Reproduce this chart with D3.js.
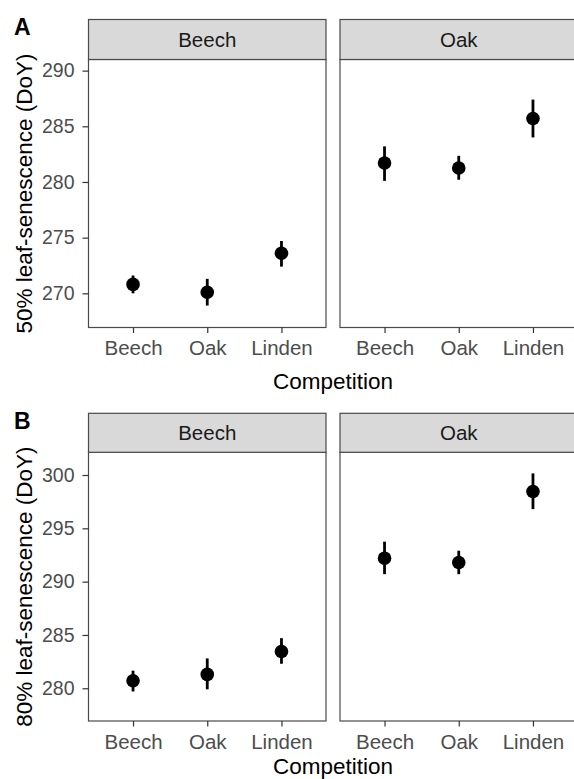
<!DOCTYPE html>
<html>
<head>
<meta charset="utf-8">
<script src="https://cdn.jsdelivr.net/npm/d3@7"></script>
<style>
  html, body { margin: 0; padding: 0; background: #fff; }
  svg { display: block; }
  text { font-family: "Liberation Sans", Arial, Helvetica, sans-serif; }
</style>
</head>
<body>
<svg id="chart" width="574" height="779"></svg>
<script>
// Focal species (facets) and competitor species (x categories)
const focalSpecies = ["Beech", "Oak"];
const competitors = ["Beech", "Oak", "Linden"];

// 50% leaf senescence (DoY): mean with lower / upper interval, Beech facet then Oak facet
const sen50Mean = [270.8, 270.1, 273.6, 281.7, 281.25, 285.7];
const sen50Low  = [270.0, 268.9, 272.4, 280.1, 280.2, 284.0];
const sen50High = [271.6, 271.3, 274.7, 283.2, 282.35, 287.4];

// 80% leaf senescence (DoY)
const sen80Mean = [280.7, 281.3, 283.45, 292.2, 291.8, 298.45];
const sen80Low  = [279.7, 279.9, 282.3, 290.7, 290.7, 296.8];
const sen80High = [281.65, 282.8, 284.7, 293.75, 292.9, 300.15];

// Axis tick labels
const ticks50 = [270, 275, 280, 285, 290];
const ticks80 = [280, 285, 290, 295, 300];

const svg = d3.select("#chart");

const rows = [
  { tag: "A", title: "50% leaf-senescence (DoY)", mean: sen50Mean, low: sen50Low, high: sen50High,
    ticks: ticks50, domain: [266.93, 291.0], stripTop: 19.5, panelTop: 59.5, panelBottom: 327.5,
    xTitleY: 389 },
  { tag: "B", title: "80% leaf-senescence (DoY)", mean: sen80Mean, low: sen80Low, high: sen80High,
    ticks: ticks80, domain: [276.93, 302.13], stripTop: 413.3, panelTop: 452.3, panelBottom: 721,
    xTitleY: 774 }
];

const panelX = [[88.5, 326], [340, 577.5]];
const borderColor = "#4a4a4a";

rows.forEach(row => {
  const y = d3.scaleLinear().domain(row.domain).range([row.panelBottom, row.panelTop]);

  focalSpecies.forEach((sp, pi) => {
    const [x0, x1] = panelX[pi];
    const x = d3.scalePoint().domain(competitors).range([x0, x1]).padding(0.6);
    const g = svg.append("g");

    // panel background + border
    g.append("rect")
      .attr("x", x0).attr("y", row.panelTop)
      .attr("width", x1 - x0).attr("height", row.panelBottom - row.panelTop)
      .attr("fill", "#fff").attr("stroke", borderColor).attr("stroke-width", 1.2);

    // strip
    g.append("rect")
      .attr("x", x0).attr("y", row.stripTop)
      .attr("width", x1 - x0).attr("height", row.panelTop - row.stripTop)
      .attr("fill", "#d9d9d9").attr("stroke", borderColor).attr("stroke-width", 1.2);
    g.append("text")
      .attr("x", (x0 + x1) / 2).attr("y", (row.stripTop + row.panelTop) / 2)
      .attr("dy", "0.36em")
      .attr("text-anchor", "middle")
      .attr("font-size", "20.5px").attr("fill", "#1a1a1a")
      .text(sp);

    // x axis
    const xa = g.append("g")
      .attr("transform", `translate(0,${row.panelBottom})`)
      .call(d3.axisBottom(x).tickSize(5.5).tickPadding(7.5));
    xa.select(".domain").remove();
    xa.selectAll(".tick line").attr("stroke", "#333").attr("stroke-width", 1.2);
    xa.selectAll(".tick text").attr("font-size", "20.5px").attr("fill", "#4d4d4d")
      .attr("font-family", null);

    // y axis on the first panel only
    if (pi === 0) {
      const ya = g.append("g")
        .attr("transform", `translate(${x0},0)`)
        .call(d3.axisLeft(y).tickValues(row.ticks).tickSize(6).tickPadding(8));
      ya.select(".domain").remove();
      ya.selectAll(".tick line").attr("stroke", "#333").attr("stroke-width", 1.2);
      ya.selectAll(".tick text").attr("font-size", "19.5px").attr("fill", "#4d4d4d")
        .attr("font-family", null);
    }

    // error bars and points
    const pts = competitors.map((c, ci) => ({
      c, m: row.mean[pi * 3 + ci], lo: row.low[pi * 3 + ci], hi: row.high[pi * 3 + ci]
    }));
    g.selectAll("line.err").data(pts).join("line")
      .attr("class", "err")
      .attr("x1", d => x(d.c)).attr("x2", d => x(d.c))
      .attr("y1", d => y(d.lo)).attr("y2", d => y(d.hi))
      .attr("stroke", "#000").attr("stroke-width", 2.8);
    g.selectAll("circle.pt").data(pts).join("circle")
      .attr("class", "pt")
      .attr("cx", d => x(d.c)).attr("cy", d => y(d.m))
      .attr("r", 6.8).attr("fill", "#000");
  });

  // y axis title
  const yc = (row.panelTop + row.panelBottom) / 2;
  svg.append("text")
    .attr("transform", `translate(23.5,${yc}) rotate(-90)`)
    .attr("dy", "0.36em")
    .attr("text-anchor", "middle")
    .attr("font-size", "22.5px").attr("fill", "#000")
    .text(row.title);

  // x axis title
  svg.append("text")
    .attr("x", 333).attr("y", row.xTitleY)
    .attr("text-anchor", "middle")
    .attr("font-size", "22.5px").attr("fill", "#000")
    .text("Competition");

  // panel tag
  svg.append("text")
    .attr("x", 14).attr("y", row.stripTop + 15.5)
    .attr("font-size", "23px").attr("font-weight", "bold").attr("fill", "#000")
    .text(row.tag);
});
</script>
</body>
</html>
